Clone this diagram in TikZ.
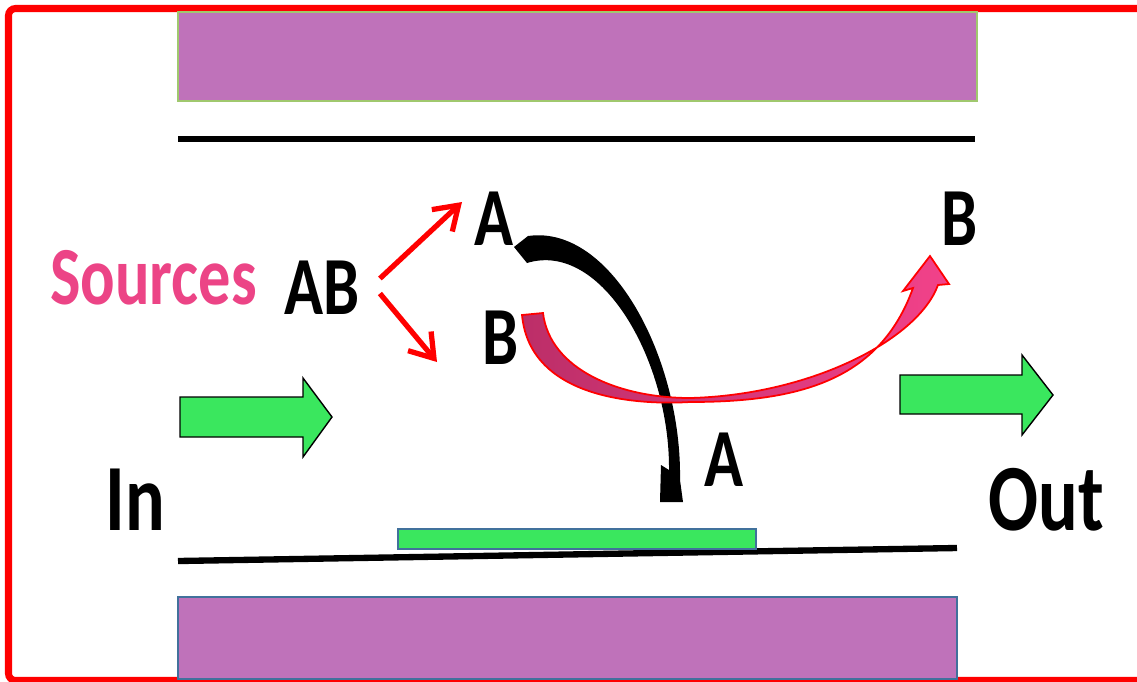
\documentclass[tikz,border=0pt]{standalone}
\usepackage{fontspec}
\setmainfont{Carlito}
\newfontfamily\labelfont{Carlito}[FakeStretch=0.78]
\usepackage{tikz}
\usetikzlibrary{arrows.meta}

\definecolor{platefill}{RGB}{191,114,186}
\definecolor{topedge}{RGB}{160,200,110}
\definecolor{lowedge}{RGB}{65,113,156}
\definecolor{flowgreen}{RGB}{58,231,94}
\definecolor{srcpink}{RGB}{236,68,134}
\definecolor{bdark}{RGB}{188,46,104}
\definecolor{blight}{RGB}{242,66,138}

\begin{document}
\begin{tikzpicture}[x=0.02cm, y=-0.02cm,
    lbl/.style={inner sep=0pt, font=\labelfont\bfseries\fontsize{47}{50}\selectfont},
    biglbl/.style={inner sep=0pt, font=\labelfont\bfseries\fontsize{54}{58}\selectfont},
    plate/.style={fill=platefill, line width=1.1pt},
    wall/.style={line width=3.6pt},
    flow/.style={fill=flowgreen, draw=black, line width=0.8pt},
    split/.style={-{Straight Barb[length=4.5mm, width=6mm]}, red, line width=3pt}
  ]
    \useasboundingbox (0,0) rectangle (1137,681);
    \clip (0,0) rectangle (1137,681);
    % frame
    \draw[red, line width=4pt, rounded corners=4pt]
      (1150,8.5) -- (8.5,8.5) -- (8.5,680.5) -- (1150,680.5);
    % plates and walls
    \draw[plate, draw=topedge] (178,12) rectangle (977,101);
    \draw[plate, draw=lowedge] (178,597) rectangle (957,679);
    \draw[wall] (178,139) -- (975,139);
    \draw[wall] (178,561) -- (957,548);
    \draw[fill=flowgreen, draw=lowedge, line width=1pt] (398,529) rectangle (756,549);
    % flow arrows
    \draw[flow] (180,397) -- (303,397) -- (303,378) -- (332,417)
      -- (303,457) -- (303,437) -- (180,437) -- cycle;
    \draw[flow] (900,375) -- (1022,375) -- (1022,355) -- (1053,395)
      -- (1022,435) -- (1022,414) -- (900,414) -- cycle;
    % labels
    \node[lbl, text=srcpink] (src)  at (153.5,277.5) {Sources};
    \node[lbl]               (ab)   at (322,287.5)   {AB};
    \node[lbl]               (aup)  at (494,219)     {A};
    \node[lbl]               (bmid) at (501,338)     {B};
    \node[lbl]               (bout) at (960,219)     {B};
    \node[lbl]               (alow) at (724.5,460)   {A};
    \node[biglbl]            (in)   at (135,500)     {In};
    \node[biglbl]            (out)  at (1046.5,500)  {Out};
    % splitting
    \coordinate (toA) at (462,202);
    \coordinate (toB) at (437,362);
    \draw[split] ([shift={(20,-9)}]ab.east) -- (toA);
    \draw[split] ([shift={(20,6)}]ab.east) -- (toB);
    % A goes down to the surface
    \fill (514,247) -- (528,236) .. controls (612,224) and (682,360) .. (680,480)
      -- (683,502) -- (660,502) -- (661,465) -- (669,470)
      .. controls (670,362) and (602,240) .. (527,263) -- cycle;
    % B leaves with the flow
    \path[draw=red, line width=1pt, left color=bdark, right color=blight]
      (522,315) .. controls (530,400) and (640,405) .. (690,402)
      .. controls (800,402) and (880,380) .. (913,288)
      -- (903,291) -- (930,256) -- (949,284) -- (938,285)
      .. controls (918,340) and (810,395) .. (690,398)
      .. controls (620,398) and (550,370) .. (543,313) -- cycle;
  \end{tikzpicture}
\end{document}
